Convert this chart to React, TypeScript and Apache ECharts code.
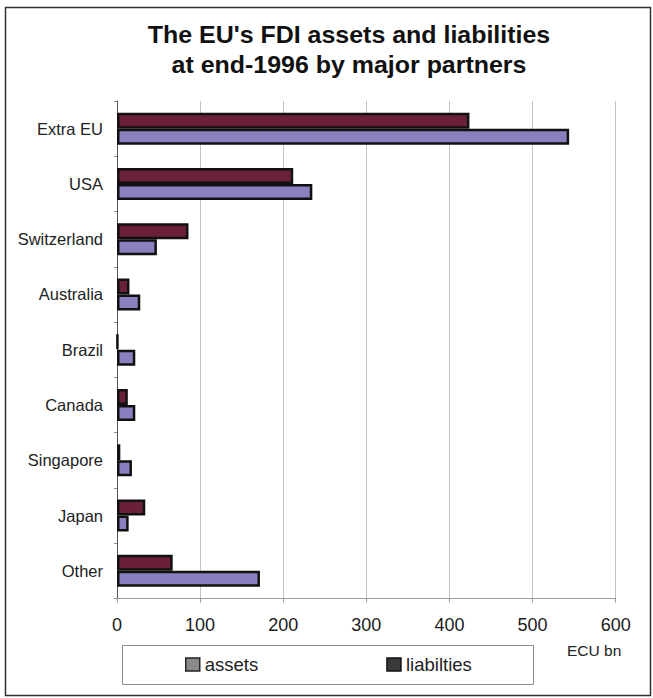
import React, { useEffect, useRef } from "react";
import * as echarts from "echarts";

const categories = ["Extra EU", "USA", "Switzerland", "Australia", "Brazil", "Canada", "Singapore", "Japan", "Other"];
const liabilities = [424, 212, 86, 15, 1, 13, 4, 34, 67];
const assets = [544, 235, 48, 28, 22, 22, 18, 14, 172];
const xTicks = [0, 100, 200, 300, 400, 500, 600];
const titleLines = ["The EU's FDI assets and liabilities", "at end-1996 by major partners"];
const unitLabel = "ECU bn";

const FONT = "'Liberation Sans', Arial, sans-serif";

export default function App() {
  const ref = useRef<HTMLDivElement>(null);
  useEffect(() => {
    if (!ref.current) return;
    const chart = echarts.init(ref.current, null, { renderer: "svg" });
    chart.setOption({
      animation: false,
      backgroundColor: "#ffffff",
      textStyle: { fontFamily: FONT },
      grid: { left: 117, top: 101, width: 498.7, height: 497.5, containLabel: false },
      xAxis: {
        type: "value",
        min: xTicks[0],
        max: xTicks[xTicks.length - 1],
        interval: 100,
        axisLine: { show: true, lineStyle: { color: "#9a9a9a", width: 1 } },
        axisTick: { show: true, length: 4, lineStyle: { color: "#9a9a9a" } },
        axisLabel: { color: "#1a1a1a", fontSize: 18, margin: 17, fontFamily: FONT },
        splitLine: { show: true, lineStyle: { color: "#c4c4c4", width: 1 } },
      },
      yAxis: {
        type: "category",
        data: categories,
        inverse: true,
        axisLine: { show: true, lineStyle: { color: "#555", width: 1 } },
        axisTick: { show: true, length: 3, lineStyle: { color: "#888" } },
        axisLabel: { color: "#222", fontSize: 16.5, margin: 14, fontFamily: FONT },
        splitLine: { show: false },
      },
      legend: {
        left: 185,
        top: 655,
        padding: 0,
        itemGap: 128,
        itemWidth: 14,
        itemHeight: 13,
        icon: "rect",
        textStyle: { fontSize: 18.5, color: "#222", fontFamily: FONT },
        data: [
          { name: "assets", itemStyle: { color: "#8a8a8a", borderColor: "#222", borderWidth: 1.5 } },
          { name: "liabilties", itemStyle: { color: "#3a3a3a", borderColor: "#111", borderWidth: 1.5 } },
        ],
      },
      graphic: [
        {
          type: "rect",
          silent: true,
          shape: { x: 5.5, y: 7.5, width: 645, height: 688 },
          style: { fill: "none", stroke: "#333", lineWidth: 1.5 },
          z: -10,
        },
        {
          type: "rect",
          silent: true,
          shape: { x: 122.5, y: 645.5, width: 411, height: 39 },
          style: { fill: "none", stroke: "#8c8c8c", lineWidth: 1 },
        },
        {
          type: "text",
          x: 349,
          y: 20,
          scaleX: 1.04,
          style: {
            text: titleLines.join("\n"),
            align: "center",
            verticalAlign: "top",
            fontSize: 24,
            fontWeight: "bold",
            fontFamily: FONT,
            lineHeight: 30,
            fill: "#111",
          },
        },
        {
          type: "text",
          x: 567,
          y: 650.5,
          style: {
            text: unitLabel,
            align: "left",
            verticalAlign: "middle",
            fontSize: 15.5,
            fontFamily: FONT,
            fill: "#222",
          },
        },
      ],
      series: [
        {
          name: "liabilties",
          type: "bar",
          data: liabilities,
          barWidth: 16,
          barGap: "0%",
          itemStyle: { color: "#6a2138", borderColor: "#111", borderWidth: 2.5 },
        },
        {
          name: "assets",
          type: "bar",
          data: assets,
          barWidth: 16,
          barGap: "0%",
          itemStyle: { color: "#8a80bf", borderColor: "#111", borderWidth: 2.5 },
        },
      ],
    });
    return () => chart.dispose();
  }, []);
  return <div ref={ref} style={{ position: "fixed", left: 0, top: 0, width: 653, height: 698 }} />;
}
